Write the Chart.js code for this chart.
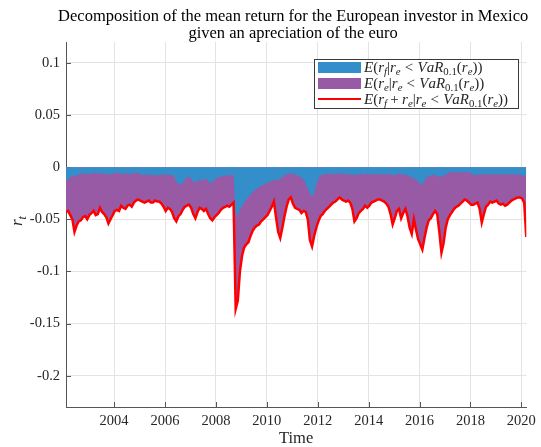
<!DOCTYPE html>
<html>
<head>
<meta charset="utf-8">
<script src="https://cdn.jsdelivr.net/npm/chart.js@4.4.0/dist/chart.umd.min.js"></script>
<style>
  html, body { margin: 0; padding: 0; background: #fff; }
  #chart { display: block; }
</style>
</head>
<body>
<canvas id="chart" width="541" height="447"></canvas>
<script>
// monthly samples, first one at 2002.11
const startYear = 2002.11;

// E(r_f | r_e < VaR) - lower edge of the blue band
const meanRf = [
  -0.014, -0.011, -0.010, -0.008, -0.009, -0.008, -0.007, -0.006, -0.007, -0.006,
  -0.006, -0.007, -0.006, -0.006, -0.005, -0.006, -0.006, -0.007, -0.006, -0.006,
  -0.007, -0.007, -0.006, -0.006, -0.005, -0.006, -0.006, -0.007, -0.006, -0.006,
  -0.007, -0.006, -0.006, -0.005, -0.006, -0.007, -0.007, -0.008, -0.007, -0.007,
  -0.008, -0.008, -0.007, -0.008, -0.008, -0.007, -0.007, -0.008, -0.007, -0.007,
  -0.008, -0.009, -0.013, -0.017, -0.016, -0.016, -0.012, -0.010, -0.009, -0.011,
  -0.014, -0.015, -0.013, -0.012, -0.013, -0.012, -0.011, -0.013, -0.016, -0.015,
  -0.012, -0.010, -0.010, -0.009, -0.009, -0.008, -0.008, -0.008, -0.007, -0.008,
  -0.048, -0.045, -0.041, -0.037, -0.034, -0.031, -0.029, -0.026, -0.024, -0.022,
  -0.021, -0.019, -0.018, -0.017, -0.016, -0.015, -0.014, -0.013, -0.012, -0.013,
  -0.012, -0.011, -0.010, -0.008, -0.007, -0.006, -0.006, -0.006, -0.007, -0.008,
  -0.009, -0.010, -0.012, -0.016, -0.021, -0.026, -0.028, -0.024, -0.017, -0.011,
  -0.008, -0.007, -0.007, -0.006, -0.007, -0.006, -0.006, -0.007, -0.006, -0.006,
  -0.006, -0.007, -0.006, -0.007, -0.007, -0.007, -0.008, -0.007, -0.007, -0.006,
  -0.007, -0.007, -0.006, -0.007, -0.007, -0.006, -0.007, -0.007, -0.006, -0.007,
  -0.007, -0.007, -0.006, -0.007, -0.008, -0.007, -0.007, -0.006, -0.007, -0.007,
  -0.007, -0.008, -0.009, -0.010, -0.011, -0.012, -0.014, -0.016, -0.017, -0.013,
  -0.010, -0.009, -0.008, -0.007, -0.008, -0.009, -0.009, -0.009, -0.008, -0.007,
  -0.006, -0.005, -0.005, -0.005, -0.005, -0.005, -0.005, -0.005, -0.005, -0.005,
  -0.005, -0.006, -0.007, -0.008, -0.007, -0.007, -0.007, -0.006, -0.007, -0.007,
  -0.007, -0.007, -0.007, -0.006, -0.007, -0.007, -0.007, -0.007, -0.006, -0.007,
  -0.007, -0.007, -0.007, -0.007, -0.007, -0.008, -0.008, -0.008
];

// E(r_f + r_e | r_e < VaR) - the red line, lower edge of the purple band
const meanTotal = [
  -0.043, -0.042, -0.046, -0.050, -0.062, -0.056, -0.052, -0.051, -0.048, -0.047,
  -0.050, -0.046, -0.044, -0.042, -0.046, -0.045, -0.039, -0.043, -0.045, -0.048,
  -0.054, -0.050, -0.046, -0.042, -0.041, -0.042, -0.037, -0.039, -0.040, -0.037,
  -0.036, -0.038, -0.034, -0.032, -0.031, -0.032, -0.033, -0.034, -0.033, -0.032,
  -0.034, -0.034, -0.032, -0.033, -0.033, -0.035, -0.038, -0.042, -0.039, -0.040,
  -0.043, -0.049, -0.052, -0.047, -0.045, -0.041, -0.038, -0.037, -0.036, -0.039,
  -0.045, -0.049, -0.043, -0.039, -0.040, -0.042, -0.040, -0.045, -0.049, -0.051,
  -0.048, -0.046, -0.044, -0.041, -0.039, -0.038, -0.037, -0.038, -0.036, -0.034,
  -0.136, -0.128, -0.100, -0.085, -0.077, -0.074, -0.072, -0.066, -0.061, -0.058,
  -0.056, -0.055, -0.052, -0.050, -0.048, -0.046, -0.042, -0.038, -0.033, -0.048,
  -0.062, -0.068, -0.058, -0.047, -0.038, -0.031, -0.029, -0.035, -0.039, -0.040,
  -0.041, -0.044, -0.042, -0.043, -0.050, -0.070, -0.076, -0.066, -0.058, -0.052,
  -0.047, -0.045, -0.042, -0.040, -0.038, -0.036, -0.034, -0.033, -0.031, -0.029,
  -0.031, -0.032, -0.033, -0.032, -0.034, -0.040, -0.052, -0.049, -0.044, -0.042,
  -0.040, -0.037, -0.039, -0.037, -0.034, -0.033, -0.032, -0.031, -0.031, -0.032,
  -0.033, -0.035, -0.038, -0.045, -0.055, -0.049, -0.042, -0.040, -0.049, -0.044,
  -0.040, -0.047, -0.058, -0.064, -0.050, -0.060, -0.069, -0.074, -0.079, -0.068,
  -0.058, -0.051, -0.049, -0.045, -0.042, -0.045, -0.062, -0.082, -0.073, -0.058,
  -0.050, -0.046, -0.043, -0.040, -0.038, -0.037, -0.035, -0.033, -0.031, -0.032,
  -0.034, -0.036, -0.036, -0.035, -0.034, -0.040, -0.053, -0.045, -0.038, -0.036,
  -0.033, -0.034, -0.033, -0.032, -0.035, -0.036, -0.035, -0.037, -0.036, -0.034,
  -0.032, -0.031, -0.030, -0.029, -0.029, -0.030, -0.034, -0.067
];

const xTicks = [2004, 2006, 2008, 2010, 2012, 2014, 2016, 2018, 2020];
const yTicks = [0.1, 0.05, 0, -0.05, -0.1, -0.15, -0.2];

const titleLines = [
  'Decomposition of the mean return for the European investor in Mexico',
  'given an apreciation of the euro'
];
const seriesLabels = [
  'E(r_{f}|r_{e}<VaR_{0.1}(r_{e}))',
  'E(r_{e}|r_{e}<VaR_{0.1}(r_{e}))',
  'E(r_{f}+r_{e}|r_{e}<VaR_{0.1}(r_{e}))'
];

const serif = '"Liberation Serif", "DejaVu Serif", serif';
const ink = '#262626';
const blue = 'rgb(51,142,202)';
const purple = 'rgb(152,89,165)';

const toPoints = arr => arr.map((v, i) => ({ x: startYear + i / 12, y: v }));

// draws things like r_{e} with italic letters and small subscripts
function drawMath(ctx, src, x, y, size) {
  let i = 0;
  while (i < src.length) {
    if (src[i] === '_') {
      const end = src.indexOf('}', i);
      x = drawRun(ctx, src.slice(i + 2, end), x, y + size * 0.22, size * 0.72);
      i = end + 1;
      continue;
    }
    x = drawRun(ctx, src[i], x, y, size);
    i++;
  }
  return x;
}

function drawRun(ctx, text, x, y, size) {
  for (const ch of text) {
    const italic = /[A-Za-z]/.test(ch);
    ctx.font = (italic ? 'italic ' : '') + size + 'px ' + serif;
    let pad = 0;
    if (ch === '<') pad = size * 0.28;
    if (ch === '+') pad = size * 0.22;
    x += pad;
    ctx.fillText(ch, x, y);
    x += ctx.measureText(ch).width + pad;
  }
  return x;
}

const decorations = {
  id: 'decorations',
  beforeDatasetsDraw(chart) {
    // inward tick marks
    const { ctx, chartArea } = chart;
    const xs = chart.scales.x, ys = chart.scales.y;
    ctx.save();
    ctx.strokeStyle = '#555';
    ctx.lineWidth = 1;
    ctx.beginPath();
    xTicks.forEach(v => {
      const px = Math.round(xs.getPixelForValue(v)) + 0.5;
      ctx.moveTo(px, chartArea.bottom);
      ctx.lineTo(px, chartArea.bottom - 5);
    });
    yTicks.forEach(v => {
      const py = Math.round(ys.getPixelForValue(v)) + 0.5;
      ctx.moveTo(chartArea.left, py);
      ctx.lineTo(chartArea.left + 5, py);
    });
    ctx.stroke();
    ctx.restore();
  },
  afterDraw(chart) {
    const { ctx, chartArea } = chart;
    ctx.save();

    // title
    ctx.fillStyle = '#000';
    ctx.textAlign = 'center';
    ctx.textBaseline = 'middle';
    ctx.font = '16.5px ' + serif;
    const cx = (chartArea.left + chartArea.right) / 2 - 3;
    titleLines.forEach((t, i) => ctx.fillText(t, cx, 17 + i * 17));

    // y axis label r_t
    ctx.textAlign = 'left';
    ctx.textBaseline = 'alphabetic';
    ctx.fillStyle = ink;
    ctx.save();
    ctx.translate(22, 226);
    ctx.rotate(-Math.PI / 2);
    drawMath(ctx, 'r_{t}', 0, 0, 17);
    ctx.restore();

    // legend
    const bx = 314.5, by = 59.5, bw = 204, bh = 49;
    ctx.fillStyle = '#fff';
    ctx.fillRect(bx, by, bw, bh);
    ctx.strokeStyle = '#3a3a3a';
    ctx.lineWidth = 1;
    ctx.strokeRect(bx, by, bw, bh);
    const rowsY = [67.5, 83.5, 99];
    chart.data.datasets.forEach((ds, i) => {
      const cy = rowsY[i];
      if (ds.fill) {
        ctx.fillStyle = ds.backgroundColor;
        ctx.fillRect(318, cy - 5.5, 43, 11);
      } else {
        ctx.strokeStyle = ds.borderColor;
        ctx.lineWidth = 2;
        ctx.beginPath();
        ctx.moveTo(318, cy);
        ctx.lineTo(361, cy);
        ctx.stroke();
      }
      ctx.fillStyle = ink;
      drawMath(ctx, ds.label, 364, cy + 4.5, 15);
    });
    ctx.restore();
  }
};

new Chart(document.querySelector('#chart'), {
  type: 'line',
  data: {
    datasets: [
      {
        label: seriesLabels[0],
        data: toPoints(meanRf),
        backgroundColor: blue,
        borderWidth: 0,
        pointRadius: 0,
        fill: 'origin',
        order: 2
      },
      {
        label: seriesLabels[1],
        data: toPoints(meanTotal),
        backgroundColor: purple,
        borderWidth: 0,
        pointRadius: 0,
        fill: 'origin',
        order: 3
      },
      {
        label: seriesLabels[2],
        data: toPoints(meanTotal),
        borderColor: '#ff0000',
        borderWidth: 2.5,
        pointRadius: 0,
        fill: false,
        order: 1
      }
    ]
  },
  options: {
    responsive: false,
    animation: false,
    devicePixelRatio: 1,
    layout: { padding: { top: 42, right: 12, bottom: 0, left: 0 } },
    plugins: {
      legend: { display: false },
      title: { display: false },
      tooltip: { enabled: false }
    },
    scales: {
      x: {
        type: 'linear',
        min: startYear,
        max: startYear + (meanTotal.length - 1) / 12,
        afterBuildTicks: s => { s.ticks = xTicks.map(v => ({ value: v })); },
        afterFit: s => { s.height = 40; },
        ticks: {
          autoSkip: false,
          maxRotation: 0,
          padding: 5,
          color: ink,
          font: { family: serif, size: 14.5 },
          callback: v => String(v)
        },
        grid: { color: '#e3e3e3', drawTicks: false },
        border: { color: '#555', width: 1 },
        title: {
          display: true,
          text: 'Time',
          color: ink,
          font: { family: serif, size: 16.5, lineHeight: 1 },
          padding: { top: 0, bottom: 0 }
        }
      },
      y: {
        min: -0.23,
        max: 0.12,
        afterBuildTicks: s => { s.ticks = yTicks.map(v => ({ value: v })); },
        afterFit: s => { s.width = 66; },
        ticks: {
          padding: 6,
          color: ink,
          font: { family: serif, size: 14.5 },
          callback: v => String(v)
        },
        grid: { color: '#e3e3e3', drawTicks: false },
        border: { color: '#555', width: 1 }
      }
    }
  },
  plugins: [decorations]
});
</script>
</body>
</html>
